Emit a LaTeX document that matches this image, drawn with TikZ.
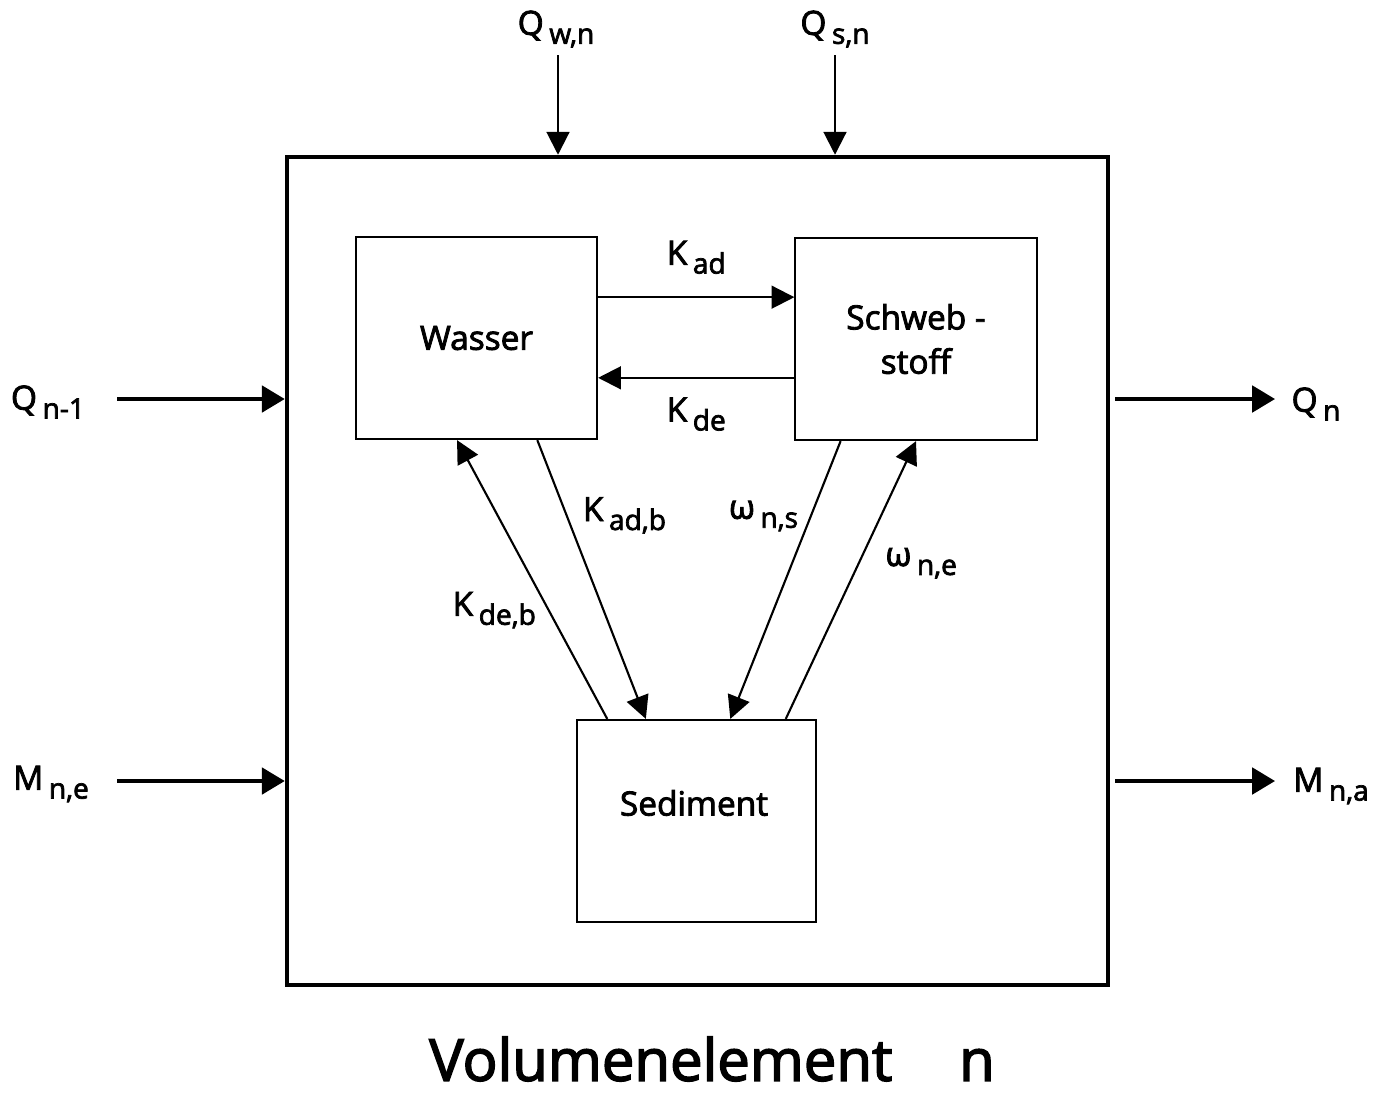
\documentclass[tikz,border=0pt]{standalone}
\usepackage{fontspec}
\setmainfont{Open Sans}[FakeBold=2.5]
\usetikzlibrary{arrows.meta,positioning,calc}
\newcommand{\flux}[2]{#1\,\raisebox{-0.5ex}{\fontsize{8pt}{9pt}\selectfont #2}}

\begin{document}
\begin{tikzpicture}[x=0.01cm,y=-0.01cm,>={Triangle[length=6.5pt,width=6.5pt]},
  font=\fontsize{9.5pt}{11pt}\selectfont,
  box/.style={draw,line width=0.6pt,minimum width=2.41cm,minimum height=2.02cm,align=center,inner sep=0pt},
  flow/.style={->,line width=0.6pt},
  bigflow/.style={->,line width=1.1pt,>={Triangle[length=6.5pt,width=7.5pt]}}]
  \fill[white] (0,0) rectangle (1391,1093);
  \useasboundingbox (0,0) rectangle (1391,1093);
  % volume element and its compartments
  \node[draw,line width=1.15pt,minimum width=8.21cm,minimum height=8.28cm] (vol) at (697.5,571) {};
  \node[box] (wasser) at (476.5,338) {Wasser};
  \node[box] (schweb) at (916,339) {Schweb -\\[1.6pt]stoff};
  \node[box,minimum width=2.39cm] (sed) at (696.5,821) {};
  \node (sedtext) at (694,803) {Sediment};
  % inflows from above
  \node (qwnlab) at (556,29) {\flux{Q}{w,n}};
  \node (qsnlab) at (835,29) {\flux{Q}{s,n}};
  \draw[flow] (558,55) coordinate (qwn) -- (qwn |- vol.north);
  \draw[flow] (835,55) coordinate (qsn) -- (qsn |- vol.north);
  % flows through the element
  \node (qinlab) at (48,402) {\flux{Q}{n-1}};
  \node (minlab) at (51,784) {\flux{M}{n,e}};
  \node (qoutlab) at (1316,404) {\flux{Q}{n}};
  \node (moutlab) at (1331,786) {\flux{M}{n,a}};
  \draw[bigflow] (117,399) coordinate (qin) -- (qin -| vol.west);
  \draw[bigflow] (117,781) coordinate (min) -- (min -| vol.west);
  \draw[bigflow] (1115,399) coordinate (qout) -- (1275,399) coordinate (qend);
  \draw[bigflow] (1115,781) coordinate (mout) -- (1275,781) coordinate (mend);
  % exchange between compartments
  \draw[flow] ($(wasser.north east)!0.3!(wasser.south east)$) coordinate (adw)
    -- (adw -| schweb.west) node[midway,above=3pt] (kad) {\flux{K}{ad}};
  \draw[flow] ($(schweb.north west)!0.69!(schweb.south west)$) coordinate (des)
    -- (des -| wasser.east) node[midway,below=2pt] (kde) {\flux{K}{de}};
  \draw[flow] ($(wasser.south west)!0.75!(wasser.south east)$)
    -- node[pos=0.27,right=1pt] (kadb) {\flux{K}{ad,b}} ($(sed.north west)!0.29!(sed.north east)$);
  \draw[flow] ($(sed.north west)!0.13!(sed.north east)$)
    -- node[pos=0.39,left=0pt] (kdeb) {\flux{K}{de,b}} ($(wasser.south west)!0.42!(wasser.south east)$);
  \draw[flow] ($(schweb.south west)!0.19!(schweb.south east)$)
    -- node[pos=0.27,left=0pt] (wns) {\flux{ω}{n,s}} ($(sed.north west)!0.64!(sed.north east)$);
  \draw[flow] ($(sed.north west)!0.87!(sed.north east)$)
    -- node[pos=0.56,right=4pt] (wne) {\flux{ω}{n,e}} ($(schweb.south west)!0.5!(schweb.south east)$);
  \node[font=\fontsize{16.5pt}{20pt}\selectfont,inner sep=0pt] (title) at (712,1059) {Volumenelement\hspace{1.15em}n};
\end{tikzpicture}
\end{document}
